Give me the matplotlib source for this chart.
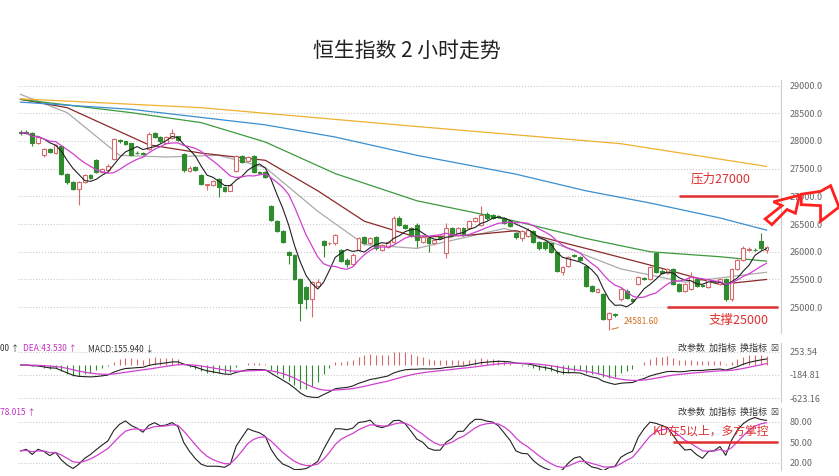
import numpy as np
import pandas as pd
import matplotlib
matplotlib.use("Agg")
import matplotlib.pyplot as plt
from matplotlib.patches import Rectangle, Polygon

plt.rcParams['font.family'] = ['Noto Sans CJK SC', 'DejaVu Sans']

# candle data: open, close, high, low
opens = [28170, 28160, 28140, 27960, 27740, 27860, 27790, 27900, 27410, 27250,
         27130, 27260, 27390, 27660, 27440, 27470, 27680, 28020, 27990, 27960,
         27785, 27790, 27860, 28140, 28070, 27960, 28060, 28080, 27770, 27460,
         27530, 27380, 27210, 27210, 27310, 27170, 27100, 27460, 27720, 27640,
         27720, 27440, 27440, 26830, 26560, 26370, 26000, 25940, 25510, 25360,
         25140, 25380, 26190, 26150, 26150, 26030, 25860, 25770, 26030, 26260,
         26150, 26270, 26030, 26090, 26180, 26610, 26490, 26430, 26490, 26180,
         26240, 26150, 26270, 25970, 26430, 26310, 26430, 26430, 26550, 26490,
         26690, 26670, 26640, 26610, 26550, 26340, 26240, 26280, 26370, 26180,
         26180, 26150, 26000, 25630, 25750, 25940, 25910, 25750, 25390, 25270,
         25230, 24780, 24880, 25140, 25300, 25150, 25420, 25520, 25510, 25970,
         25660, 25620, 25680, 25420, 25300, 25330, 25510, 25390, 25360, 25450,
         25420, 25510, 25140, 25690, 25850, 26040, 26030, 26190, 26030]
closes = [28140, 28150, 27960, 28070, 27860, 27800, 27930, 27410, 27250, 27130,
          27250, 27390, 27330, 27440, 27500, 27540, 28030, 27990, 27950, 27740,
          27780, 27760, 28130, 28070, 27990, 28070, 28140, 28020, 27470, 27520,
          27480, 27230, 27210, 27280, 27160, 27100, 27210, 27720, 27620, 27710,
          27440, 27430, 27350, 26580, 26370, 26180, 25940, 25510, 25080, 25140,
          25450, 25460, 26120, 26160, 26300, 25840, 25780, 25950, 26250, 26150,
          26240, 26060, 26120, 26170, 26610, 26490, 26430, 26290, 26210, 26270,
          26150, 26210, 26250, 26430, 26310, 26430, 26310, 26550, 26600, 26670,
          26600, 26610, 26630, 26520, 26460, 26270, 26370, 26400, 26180, 26060,
          26060, 26000, 25660, 25720, 25910, 25930, 25850, 25390, 25300, 25330,
          24780, 24900, 24850, 25330, 25170, 25110, 25540, 25510, 25720, 25630,
          25620, 25680, 25420, 25300, 25420, 25570, 25390, 25385, 25510, 25445,
          25510, 25140, 25690, 25850, 26060, 26045, 26025, 26060, 26090]
highs = [28190, 28200, 28160, 28090, 27880, 27880, 27950, 27920, 27430, 27270,
         27270, 27410, 27400, 27680, 27520, 27580, 28060, 28040, 28000, 27970,
         27810, 27800, 28170, 28160, 28080, 28090, 28210, 28090, 27790, 27540,
         27550, 27400, 27220, 27300, 27330, 27190, 27230, 27750, 27740, 27730,
         27740, 27460, 27460, 26850, 26580, 26390, 26020, 25960, 25530, 25380,
         25470, 25500, 26210, 26180, 26320, 26050, 25880, 25970, 26270, 26280,
         26260, 26290, 26140, 26190, 26640, 26640, 26500, 26450, 26510, 26290,
         26260, 26230, 26290, 26520, 26450, 26450, 26450, 26570, 26620, 26830,
         26710, 26690, 26660, 26630, 26570, 26360, 26390, 26420, 26390, 26200,
         26200, 26170, 26010, 25740, 25930, 25960, 25920, 25760, 25400, 25350,
         25250, 24920, 24900, 25350, 25320, 25170, 25560, 25540, 25740, 25990,
         25680, 25700, 25700, 25440, 25440, 25640, 25530, 25420, 25530, 25470,
         25530, 25530, 25710, 25870, 26100, 26080, 26060, 26340, 26110]
lows = [28110, 28130, 27910, 27940, 27710, 27780, 27770, 27390, 27230, 27110,
        26850, 27240, 27310, 27420, 27420, 27440, 27660, 27970, 27930, 27720,
        27760, 27740, 27840, 28050, 27970, 27940, 28040, 28000, 27440, 27440,
        27460, 27210, 27110, 27190, 26980, 27080, 27090, 27440, 27600, 27620,
        27420, 27410, 27330, 26560, 26350, 26160, 25780, 25490, 24750, 24960,
        24830, 25360, 25900, 26130, 26130, 25820, 25720, 25750, 26010, 26130,
        26130, 26040, 26010, 26070, 26160, 26470, 26410, 26270, 26060, 26160,
        26000, 26130, 26230, 25880, 26290, 26290, 26290, 26410, 26530, 26470,
        26580, 26590, 26610, 26500, 26440, 26230, 26200, 26260, 26160, 26040,
        26040, 25980, 25640, 25580, 25730, 25910, 25830, 25370, 25280, 25250,
        24760, 24590, 24820, 25110, 25150, 25090, 25400, 25490, 25490, 25610,
        25600, 25600, 25400, 25270, 25280, 25310, 25370, 25360, 25340, 25430,
        25400, 25110, 25120, 25670, 25830, 26020, 26010, 26040, 25980]

# longer moving averages at a few candles
ma20_idx = [0, 8, 17, 25, 34, 42, 51, 59, 68, 83, 91, 103, 114, 128]
ma20_val = [28840, 28510, 27740, 27710, 27740, 27520, 26730, 26130, 26060, 26420, 26180, 25690, 25450, 25630]
ma30_idx = [0, 8, 22, 31, 42, 51, 59, 68, 77, 85, 97, 108, 120, 128]
ma30_val = [28750, 28600, 27930, 27780, 27650, 27100, 26550, 26260, 26300, 26380, 26060, 25760, 25410, 25500]
ma60_idx = [0, 19, 31, 42, 54, 68, 85, 97, 108, 120, 128]
ma60_val = [28750, 28510, 28330, 27980, 27410, 26920, 26550, 26240, 26000, 25910, 25830]
ma120_idx = [0, 19, 42, 54, 68, 85, 97, 108, 120, 128]
ma120_val = [28700, 28570, 28290, 28070, 27740, 27400, 27100, 26880, 26610, 26390]
ma250_idx = [0, 31, 68, 103, 128]
ma250_val = [28760, 28600, 28260, 27950, 27540]

price_ticks = [25000, 25500, 26000, 26500, 27000, 27500, 28000, 28500, 29000]

df = pd.DataFrame({'o': opens, 'c': closes, 'h': highs, 'l': lows})
n = len(df)
x = np.arange(n)
ma5 = df.c.rolling(5, min_periods=1).mean()
ma10 = df.c.rolling(10, min_periods=1).mean()

ema12 = df.c.ewm(span=12, adjust=False).mean()
ema26 = df.c.ewm(span=26, adjust=False).mean()
dif = ema12 - ema26
dea = dif.ewm(span=9, adjust=False).mean()
hist = 2 * (dif - dea)

lo9 = df.l.rolling(9, min_periods=1).min()
hi9 = df.h.rolling(9, min_periods=1).max()
rsv = (df.c - lo9) / (hi9 - lo9) * 100
k = rsv.ewm(alpha=1/3, adjust=False).mean()
d = k.ewm(alpha=1/3, adjust=False).mean()

GRN = '#2e8b2e'
grid_kw = dict(color='#cccccc', linestyle=':', linewidth=0.8)

fig = plt.figure(figsize=(8.39, 4.76), dpi=100)
fig.text(0.485, 0.88, '恒生指数 2 小时走势', ha='center', fontsize=15, color='#222222')

ax = fig.add_axes([0.021, 0.30, 0.91, 0.532])
for i in range(n):
    o, c, h, l = opens[i], closes[i], highs[i], lows[i]
    up = c >= o
    col = '#d66a6a' if up else GRN
    ax.vlines(x[i], l, h, color=col, linewidth=0.8)
    ax.add_patch(Rectangle((x[i] - 0.33, min(o, c)), 0.66, max(abs(c - o), 8),
                           facecolor='white' if up else col, edgecolor=col, linewidth=0.8, zorder=3))
ax.plot(x, ma5, color='#222222', lw=0.8, zorder=4)
ax.plot(x, ma10, color='#d040d0', lw=0.9, zorder=4)
ax.plot(ma20_idx, ma20_val, color='#aaaaaa', lw=0.9)
ax.plot(ma30_idx, ma30_val, color='#8b2a2a', lw=0.9)
ax.plot(ma60_idx, ma60_val, color='#3c9a3c', lw=0.9)
ax.plot(ma120_idx, ma120_val, color='#3a8fd0', lw=0.9)
ax.plot(ma250_idx, ma250_val, color='#f0b030', lw=0.9)
ax.set_xlim(-0.5, 130.5)
ax.set_ylim(24530, 29100)
ax.set_yticks(price_ticks)
ax.set_yticklabels(['%.1f' % v for v in price_ticks])
ax.yaxis.tick_right()
ax.tick_params(axis='y', length=0, labelsize=6.5, colors='#666666', pad=6)
ax.set_xticks([])
for sp in ['top', 'left', 'bottom']:
    ax.spines[sp].set_visible(False)
ax.spines['right'].set_color('#cccccc')
ax.grid(axis='y', **grid_kw)

# support / resistance annotations
ax.hlines(27000, 113, 130, color='#e03030', lw=1.8)
ax.hlines(25000, 111, 130, color='#e03030', lw=1.8)
ax.text(115, 27250, '压力27000', color='#e03030', fontsize=9)
ax.text(118, 24700, '支撑25000', color='#e03030', fontsize=9)
ax.annotate('24581.60', xy=(101, 24590), xytext=(103.5, 24690), fontsize=6,
            color='#d07020', arrowprops=dict(arrowstyle='-', color='#d07020', lw=0.7))

# hollow arrows on the right
fig.patches.append(Polygon([(0.912, 0.540), (0.932, 0.568), (0.922, 0.576), (0.953, 0.590),
                            (0.948, 0.552), (0.938, 0.560), (0.920, 0.528)],
                           closed=True, fill=False, edgecolor='#ff2020', lw=2, transform=fig.transFigure))
fig.patches.append(Polygon([(0.955, 0.570), (0.978, 0.568), (0.978, 0.535), (1.0, 0.565),
                            (0.990, 0.610), (0.978, 0.598), (0.955, 0.592)],
                           closed=True, fill=False, edgecolor='#ff2020', lw=2, transform=fig.transFigure))

# MACD panel
ax2 = fig.add_axes([0.021, 0.155, 0.91, 0.125], sharex=ax)
ax2.vlines(x, 0, hist, colors=np.where(hist >= 0, '#d66a6a', GRN), lw=0.8)
ax2.plot(x, dif, color='#222222', lw=0.8)
ax2.plot(x, dea, color='#d040d0', lw=0.9)
ax2.set_ylim(-700, 420)
ax2.set_yticks([253.54, -184.81, -623.16])
ax2.set_yticklabels(['253.54', '-184.81', '-623.16'])
ax2.yaxis.tick_right()
ax2.tick_params(axis='y', length=0, labelsize=6.5, colors='#666666', pad=6)
ax2.tick_params(axis='x', bottom=False, labelbottom=False)
for sp in ['top', 'left', 'bottom']:
    ax2.spines[sp].set_visible(False)
ax2.spines['right'].set_color('#cccccc')
ax2.grid(axis='y', **grid_kw)
fig.text(0.0, 0.263, '00 ↑', fontsize=6, color='#333333')
fig.text(0.028, 0.263, 'DEA:43.530 ↑', fontsize=6, color='#c030c0')
fig.text(0.105, 0.263, 'MACD:155.940 ↓', fontsize=6, color='#333333')
fig.text(0.808, 0.263, '改参数  加指标  换指标  ☒', fontsize=6.5, color='#333333')

# KD panel
ax3 = fig.add_axes([0.021, 0.013, 0.91, 0.13], sharex=ax)
ax3.plot(x, k, color='#222222', lw=0.8)
ax3.plot(x, d, color='#d040d0', lw=0.9)
ax3.hlines(50, 112, 130, color='#e03030', lw=1.8)
ax3.text(108.5, 62, 'KD在5以上，多方掌控', color='#e03030', fontsize=8.5)
ax3.set_ylim(10, 100)
ax3.set_yticks([80, 50, 20])
ax3.set_yticklabels(['80.00', '50.00', '20.00'])
ax3.yaxis.tick_right()
ax3.tick_params(axis='y', length=0, labelsize=6.5, colors='#666666', pad=6)
ax3.tick_params(axis='x', bottom=False, labelbottom=False)
for sp in ['top', 'left', 'bottom']:
    ax3.spines[sp].set_visible(False)
ax3.spines['right'].set_color('#cccccc')
ax3.grid(axis='y', **grid_kw)
fig.text(0.0, 0.128, '78.015 ↑', fontsize=6, color='#c030c0')
fig.text(0.808, 0.128, '改参数  加指标  换指标  ☒', fontsize=6.5, color='#333333')

fig.savefig('out.png', dpi=100)
